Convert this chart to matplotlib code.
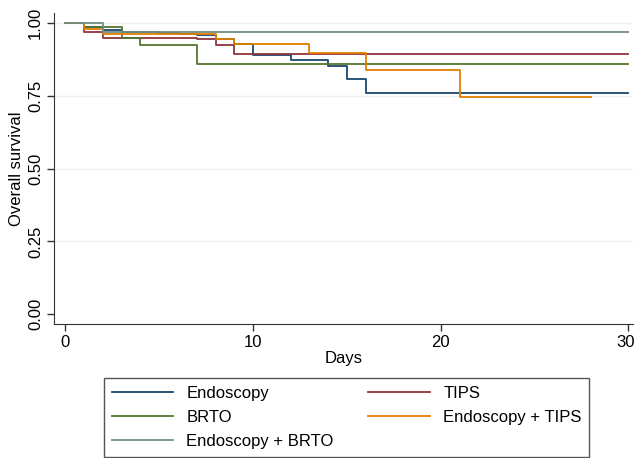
import matplotlib
matplotlib.use("Agg")
import matplotlib.pyplot as plt
import matplotlib.transforms as mtransforms

plt.rcParams['font.family'] = ['Liberation Sans', 'DejaVu Sans']

# Kaplan-Meier steps (days, survival)
endo_t = [0, 1, 2, 3, 5, 6, 7, 8, 9, 10, 12, 14, 15, 16, 30]
endo_s = [1.0, 0.988, 0.977, 0.970, 0.966, 0.962, 0.958, 0.945, 0.930, 0.890, 0.874, 0.853, 0.808, 0.759, 0.759]

tips_t = [0, 1, 2, 7, 8, 9, 30]
tips_s = [1.0, 0.971, 0.950, 0.945, 0.926, 0.893, 0.893]

brto_t = [0, 1, 3, 4, 7, 30]
brto_s = [1.0, 0.986, 0.948, 0.925, 0.859, 0.859]

endotips_t = [0, 1, 2, 8, 9, 13, 16, 21, 28]
endotips_s = [1.0, 0.979, 0.962, 0.945, 0.930, 0.896, 0.839, 0.745, 0.745]

endobrto_t = [0, 2, 30]
endobrto_s = [1.0, 0.969, 0.969]

labels = ["Endoscopy", "TIPS", "BRTO", "Endoscopy + TIPS", "Endoscopy + BRTO"]
colors = ["#1a476f", "#90353b", "#55752f", "#e37e00", "#6e8e84"]
yticks = [0.0, 0.25, 0.5, 0.75, 1.0]
xticks = [0, 10, 20, 30]

fig = plt.figure(figsize=(6.36, 4.58), dpi=100)
ax = fig.add_axes([54.3/636, 1-324/458, (633-54.3)/636, (324-13.3)/458])

for y in yticks[1:]:
    ax.axhline(y, color="#eaf2f3", lw=1.0, zorder=0)

series = [(endo_t, endo_s), (tips_t, tips_s), (brto_t, brto_s),
          (endotips_t, endotips_s), (endobrto_t, endobrto_s)]
handles = []
for (t, s), lab, c in zip(series, labels, colors):
    h, = ax.step(t, s, where="post", color=c, lw=1.3, label=lab)
    handles.append(h)

ax.set_xlim(-0.59, 30.24)
ax.set_ylim(-0.034, 1.034)
ax.set_xticks(xticks)
ax.set_yticks(yticks)
ax.set_yticklabels(["%.2f" % v for v in yticks], rotation=90, va="center")
ax.tick_params(labelsize=12, length=5, width=1, color="#333333", pad=3)
ax.spines["top"].set_visible(False)
ax.spines["right"].set_visible(False)
for sp in ["left", "bottom"]:
    ax.spines[sp].set_color("#333333")
ax.set_xlabel("Days", fontsize=12, labelpad=1)
ax.set_ylabel("Overall survival", fontsize=12, labelpad=3)

# keep the last x label inside the picture
lastlab = ax.get_xticklabels()[-1]
lastlab.set_transform(lastlab.get_transform() +
                      mtransforms.ScaledTranslation(-3/100, 0, fig.dpi_scale_trans))

# legend order: Endoscopy, TIPS / BRTO, Endo+TIPS / Endo+BRTO (row-wise)
order = [0, 2, 4, 1, 3]
leg = fig.legend([handles[i] for i in order], [labels[i] for i in order],
                 ncol=2, loc="lower left",
                 bbox_to_anchor=(104/636, 1-456.5/458, 485/636, 78/458),
                 mode="expand", borderaxespad=0, fontsize=12,
                 handlelength=3.7, handletextpad=0.8, labelspacing=0.55,
                 borderpad=0.45,
                 fancybox=False, edgecolor="#555555", framealpha=1)
leg.get_frame().set_linewidth(1.0)

fig.savefig("out.png", dpi=100)
